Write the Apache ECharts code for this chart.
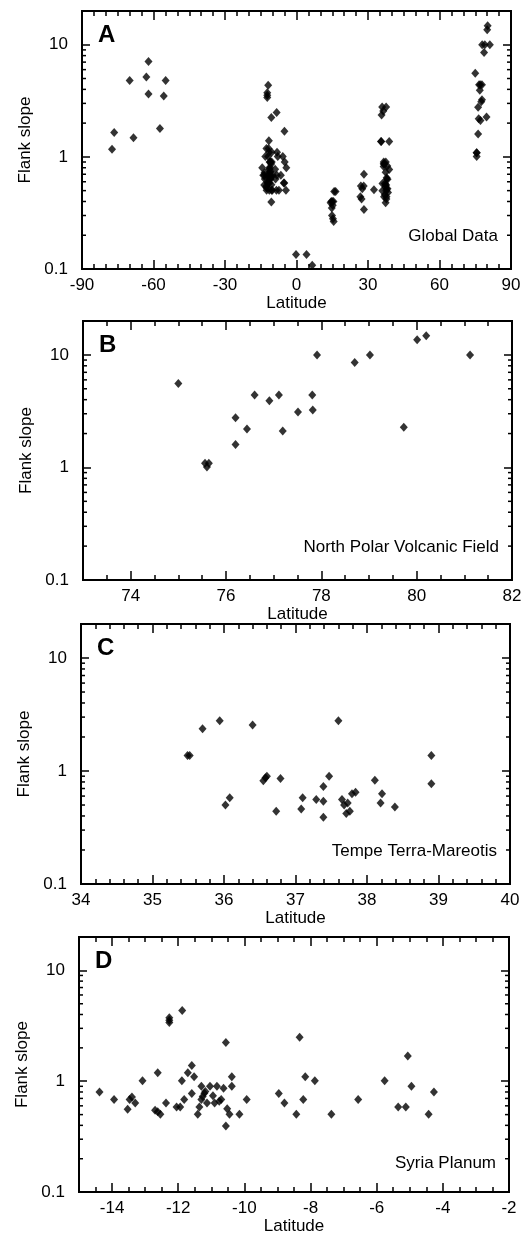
<!DOCTYPE html>
<html><head><meta charset="utf-8">
<script src="https://cdn.jsdelivr.net/npm/echarts@6/dist/echarts.min.js"></script>
<style>html,body{margin:0;padding:0;background:#fff}#c{width:527px;height:1236px}</style>
</head><body><div id="c"></div><script>
// ---- data: [latitude, flank slope] ----
const southGroup = [[-77.4,1.17],[-76.5,1.65],[-70.0,4.79],[-68.4,1.48],[-63.0,5.17],[-62.1,7.09],[-62.1,3.64],[-57.3,1.79],[-55.7,3.49],[-54.9,4.79]];
const equatorGroup = [[-0.2,0.135],[4.2,0.135],[6.6,0.108]];
const group15 = [[14.6,0.40],[15.0,0.40],[15.5,0.40],[14.3,0.39],[15.2,0.37],[14.8,0.35],[15.8,0.49],[16.4,0.49],[14.9,0.30],[15.3,0.28],[15.6,0.265]];
const group30 = [[28.3,0.70],[27.0,0.55],[28.2,0.55],[27.6,0.52],[26.8,0.44],[27.3,0.42],[28.3,0.34],[32.5,0.51]];
const npvfData = [[75.0,5.56],[75.56,1.09],[75.64,1.09],[75.6,1.01],[76.2,2.77],[76.2,1.60],[76.44,2.19],[76.6,4.40],[76.91,3.92],[77.11,4.40],[77.19,2.11],[77.51,3.11],[77.81,4.40],[77.82,3.24],[77.91,10],[78.7,8.55],[79.02,10],[79.73,2.27],[80.01,13.6],[80.2,14.8],[81.12,10]];
const tempeData = [[35.49,1.37],[35.52,1.37],[35.70,2.36],[35.94,2.78],[36.02,0.50],[36.08,0.58],[36.40,2.56],[36.55,0.82],[36.58,0.87],[36.60,0.90],[36.79,0.86],[36.73,0.44],[37.08,0.46],[37.10,0.58],[37.29,0.56],[37.39,0.73],[37.39,0.54],[37.39,0.39],[37.47,0.90],[37.60,2.78],[37.65,0.56],[37.68,0.50],[37.73,0.52],[37.71,0.42],[37.76,0.44],[37.79,0.63],[37.84,0.65],[38.11,0.83],[38.21,0.63],[38.19,0.52],[38.39,0.48],[38.90,1.37],[38.90,0.77]];
const syriaData = [[-14.38,0.80],[-13.94,0.685],[-13.53,0.56],[-13.47,0.685],[-13.40,0.72],[-13.30,0.635],[-13.08,1.01],[-12.70,0.546],[-12.62,1.19],[-12.62,0.53],[-12.54,0.503],[-12.37,0.635],[-12.27,3.74],[-12.27,3.54],[-12.27,3.38],[-12.05,0.585],[-11.94,0.585],[-11.89,1.01],[-11.88,4.35],[-11.82,0.685],[-11.71,1.19],[-11.59,1.39],[-11.59,0.776],[-11.52,1.10],[-11.36,0.585],[-11.41,0.503],[-11.30,0.902],[-11.30,0.685],[-11.26,0.729],[-11.21,0.78],[-11.18,0.81],[-11.13,0.635],[-11.04,0.90],[-10.95,0.74],[-10.90,0.635],[-10.83,0.90],[-10.76,0.66],[-10.70,0.685],[-10.63,0.866],[-10.56,2.24],[-10.56,0.395],[-10.52,0.565],[-10.45,0.503],[-10.38,0.90],[-10.38,1.10],[-10.15,0.503],[-9.93,0.685],[-8.96,0.776],[-8.79,0.635],[-8.43,0.503],[-8.33,2.49],[-8.22,0.685],[-8.16,1.10],[-7.87,1.01],[-7.37,0.503],[-6.56,0.685],[-5.76,1.01],[-5.35,0.585],[-5.12,0.585],[-5.06,1.69],[-4.95,0.90],[-4.43,0.503],[-4.27,0.80]];
const globalData = [].concat(southGroup, syriaData, equatorGroup, group15, group30, tempeData, npvfData);

// ---- tick labels ----
const ticksA = [-90,-60,-30,0,30,60,90];
const ticksB = [74,76,78,80,82];
const ticksC = [34,35,36,37,38,39,40];
const ticksD = [-14,-12,-10,-8,-6,-4,-2];
const logMinorTicks = [0.2,0.3,0.4,0.5,0.6,0.7,0.8,0.9,2,3,4,5,6,7,8,9];
const panelLetters = ['A','B','C','D'];
const regionNames = ['Global Data','North Polar Volcanic Field','Tempe Terra-Mareotis','Syria Planum'];

// ---- layout ----
const FONT = '"Liberation Sans", Arial, sans-serif';
const panels = [
  {data: globalData, ticks: ticksA, xMin:-90, xMax:90, minorStep:5, left:82, top:11, width:429, height:258},
  {data: npvfData, ticks: ticksB, xMin:73, xMax:82, minorStep:0.5, left:83, top:321, width:429, height:259},
  {data: tempeData, ticks: ticksC, xMin:34, xMax:40, minorStep:0.2, left:81, top:624, width:429, height:260},
  {data: syriaData, ticks: ticksD, xMin:-15, xMax:-2, minorStep:0.5, left:79, top:937, width:430, height:259}
];
const black = '#000';
const grid=[], xAxis=[], yAxis=[], series=[], graphic=[];
panels.forEach((p,i)=>{
  grid.push({left:p.left, top:p.top, width:p.width, height:p.height});
  const line = {onZero:false, lineStyle:{color:black, width:2}};
  ['bottom','top'].forEach(pos=>{
    // minor ticks axis
    xAxis.push({gridIndex:i, type:'value', min:p.xMin, max:p.xMax, interval:p.minorStep, position:pos,
      axisLine:line, axisTick:{inside:true, length:5, lineStyle:{color:black, width:1.5}},
      axisLabel:{show:false}, splitLine:{show:false}});
    // major ticks axis with labels
    const major = {gridIndex:i, type:'value', min:p.xMin, max:p.xMax, position:pos,
      axisLine:line,
      axisTick:{inside:true, length:9, customValues:p.ticks, lineStyle:{color:black, width:1.5}},
      splitLine:{show:false}};
    if (pos==='bottom') {
      Object.assign(major, {name:'Latitude', nameLocation:'middle', nameGap:25,
        nameTextStyle:{fontFamily:FONT, fontSize:17, color:black},
        axisLabel:{margin:8, customValues:p.ticks, fontFamily:FONT, fontSize:17, color:black}});
    } else {
      major.axisLabel = {show:false};
    }
    xAxis.push(major);
  });
  const ycommon = {gridIndex:i, type:'log', logBase:10, min:0.1, max:20,
    axisLine:{onZero:false, lineStyle:{color:black, width:2}},
    axisTick:{inside:true, length:8, lineStyle:{color:black, width:1.5}},
    splitLine:{show:false}};
  yAxis.push(Object.assign({}, ycommon, {position:'left',
    name:'Flank slope', nameLocation:'middle', nameGap:47,
    nameTextStyle:{fontFamily:FONT, fontSize:17, color:black},
    axisLabel:{margin:14, fontFamily:FONT, fontSize:17, color:black, showMaxLabel:false}}));
  yAxis.push(Object.assign({}, ycommon, {position:'right', axisLabel:{show:false}}));
  series.push({type:'scatter', xAxisIndex:4*i, yAxisIndex:2*i, data:p.data,
    symbol:'diamond', symbolSize:[8,9], itemStyle:{color:black}, silent:true, animation:false});
  series.push({type:'custom', xAxisIndex:4*i, yAxisIndex:2*i, silent:true, animation:false,
    data: logMinorTicks.map(v=>[p.xMin, v]),
    renderItem:(params, api)=>{
      const pt = api.coord([api.value(0), api.value(1)]);
      const cs = params.coordSys;
      const st = {stroke:black, lineWidth:1.5};
      return {type:'group', children:[
        {type:'line', shape:{x1:cs.x, y1:pt[1], x2:cs.x+4, y2:pt[1]}, style:st},
        {type:'line', shape:{x1:cs.x+cs.width-4, y1:pt[1], x2:cs.x+cs.width, y2:pt[1]}, style:st}
      ]};
    }});
  graphic.push({type:'text', left:p.left+16, top:p.top+12,
    style:{text:panelLetters[i], font:'bold 24px '+FONT, fill:black}});
  graphic.push({type:'text', right:527-(p.left+p.width-13), top:p.top+p.height-41.5,
    style:{text:regionNames[i], font:'17px '+FONT, fill:black}});
});
const chart = echarts.init(document.getElementById('c'), null, {renderer:'canvas'});
chart.setOption({animation:false, backgroundColor:'#fff', grid, xAxis, yAxis, series, graphic});
</script></body></html>
